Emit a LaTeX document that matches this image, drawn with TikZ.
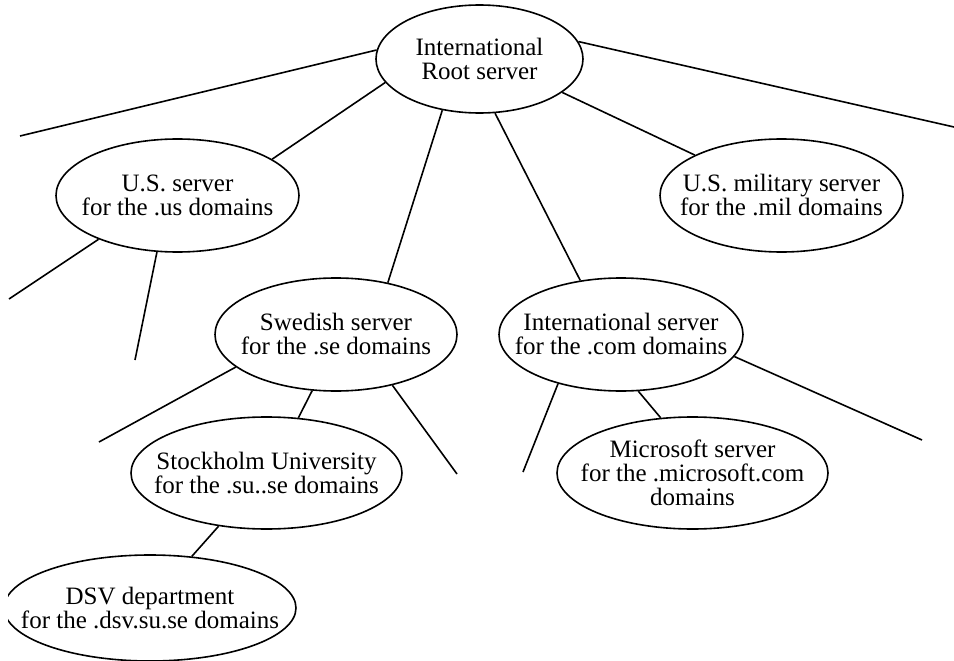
\documentclass[tikz,border=0pt]{standalone}
\usepackage{fontspec}
\setmainfont{Liberation Serif}
\usetikzlibrary{shapes.geometric}
\tikzset{
  srv/.style={draw, ellipse, line width=1.6pt, inner xsep=-300pt, inner ysep=-300pt,
    align=center, font=\fontsize{25}{24}\selectfont},
  link/.style={line width=1.6pt},
}
\begin{document}
\begin{tikzpicture}[x=1pt,y=-1pt]
\useasboundingbox (0,0) rectangle (954,661);
\begin{scope}
\clip (8,-10) rectangle (954,661);
\node[srv, minimum width=207pt, minimum height=108pt] (root) at (479.5,59) {International\\Root server};
\node[srv, minimum width=243pt, minimum height=113pt] (us) at (177.5,195.5) {U.S. server\\for the .us domains};
\node[srv, minimum width=243pt, minimum height=113pt] (mil) at (781.5,195.5) {U.S. military server\\for the .mil domains};
\node[srv, minimum width=242pt, minimum height=113pt] (se) at (336,334.5) {Swedish server\\for the .se domains};
\node[srv, minimum width=244pt, minimum height=113pt] (com) at (621,334.5) {International server\\for the .com domains};
\node[srv, minimum width=271pt, minimum height=112pt] (su) at (266.5,473) {Stockholm University\\for the .su..se domains};
\node[srv, minimum width=271pt, minimum height=112pt] (ms) at (692.5,473) {Microsoft server\\for the .microsoft.com\\domains};
\node[srv, minimum width=292pt, minimum height=106pt] (dsv) at (150,608) {DSV department\\for the .dsv.su.se domains};

\coordinate (e1) at (20,136);
\coordinate (e2) at (954,127);
\coordinate (e3) at (9,299);
\coordinate (e4) at (135,360);
\coordinate (e5) at (99,442);
\coordinate (e6) at (457,474);
\coordinate (e7) at (523,472);
\coordinate (e8) at (922,440);

\draw[link] (root.175) -- (e1);
\draw[link] (root.10) -- (e2);
\draw[link] (root.194.5) -- (us.21.4);
\draw[link] (root.234.7) -- (se.45.8);
\draw[link] (root.338) -- (mil.155.7);
\draw[link] (root.286) -- (com.127.6);
\draw[link] (us.209.9) -- (e3);
\draw[link] (us.250.9) -- (e4);
\draw[link] (se.198.3) -- (e5);
\draw[link] (se.247.9) -- (su.60.6);
\draw[link] (se.318.5) -- (e6);
\draw[link] (com.218.5) -- (e7);
\draw[link] (com.287.7) -- (ms.120.1);
\draw[link] (com.349.4) -- (e8);
\draw[link] (su.228.7) -- (dsv.51.3);
\end{scope}
\end{tikzpicture}
\end{document}
